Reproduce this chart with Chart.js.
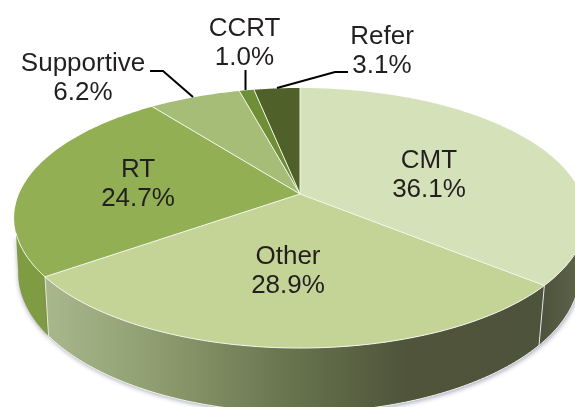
<!DOCTYPE html>
<html>
<head>
<meta charset="utf-8">
<title>Treatment share</title>
<script src="https://cdn.jsdelivr.net/npm/chart.js@4"></script>
<style>
    html, body { margin: 0; padding: 0; background: #fff; overflow: hidden; }
    #wrap { position: relative; width: 575px; height: 407px; }
</style>
</head>
<body>
<div id="wrap"><canvas id="pieChart" width="575" height="407"></canvas></div>
<script>
const categories = ['CMT', 'Other', 'RT', 'Supportive', 'CCRT', 'Refer'];
const shares = [36.1, 28.9, 24.7, 6.2, 1.0, 3.1];
const shareLabels = ['36.1%', '28.9%', '24.7%', '6.2%', '1.0%', '3.1%'];

const topColors = ['#d5e2b9', '#c4d497', '#92af54', '#a5bd76', '#6f8f36', '#4f6128'];

// label anchors: [center x, first baseline]
const labelSpots = [[429, 168], [288, 264], [138, 177], [83, 71], [244.5, 36], [382, 44]];
const leaders = [
    [[150, 71], [163, 71], [193, 97]],
    [[245.5, 70], [245.5, 90]],
    [[348, 72], [335, 72], [277, 88]]
];

// the pie is tilted with a bit of perspective, so the back is narrower than the front
const tilt = 0.1846;
const topRim = { yScale: 125.6 };
const lowRim = { dx: -1, xScale: 276, yc: 247, yScale: 135 };

const DEG = Math.PI / 180;

function rimPoint(arc, angle, isLow) {
    const w = 1 - tilt * Math.sin(angle);
    if (isLow) {
        return [arc.x + lowRim.dx + lowRim.xScale * Math.cos(angle) / w,
                lowRim.yc + lowRim.yScale * Math.sin(angle) / w];
    }
    return [arc.x + arc.outerRadius * Math.cos(angle) / w,
            arc.y + topRim.yScale * Math.sin(angle) / w];
}

function traceRim(ctx, arc, from, to, isLow, first) {
    const steps = Math.max(4, Math.ceil(Math.abs(to - from) * 60));
    for (let i = 0; i <= steps; i++) {
        const p = rimPoint(arc, from + (to - from) * i / steps, isLow);
        if (i === 0 && first) ctx.moveTo(p[0], p[1]);
        else ctx.lineTo(p[0], p[1]);
    }
}

function wallFill(ctx, index) {
    if (index === 2) return '#7f9c42';
    const g = ctx.createLinearGradient(47, 0, 575, 0);
    g.addColorStop(0, '#a9b88c');
    g.addColorStop(0.2, '#8f9e70');
    g.addColorStop(0.45, '#69754f');
    g.addColorStop(0.68, '#4f543a');
    g.addColorStop(0.94, '#4e533b');
    g.addColorStop(1, '#5c6249');
    return g;
}

const pie3d = {
    id: 'pie3d',
    beforeDatasetsDraw(chart) {
        const ctx = chart.ctx;
        const arcs = chart.getDatasetMeta(0).data;

        ctx.save();
        ctx.lineJoin = 'round';

        // side wall, only the visible front part of each slice
        [2, 0, 1].forEach(i => {
            const arc = arcs[i];
            let topFrom = arc.startAngle, topTo = arc.endAngle;
            let lowFrom = arc.startAngle, lowTo = arc.endAngle;
            if (i === 2) { topTo = 163 * DEG; lowTo = 170 * DEG; }
            if (i === 0) { topFrom = 15 * DEG; lowFrom = 10 * DEG; }

            ctx.save();
            ctx.shadowColor = 'rgba(80,80,120,0.45)';
            ctx.shadowBlur = 4;
            ctx.shadowOffsetY = 2;
            ctx.shadowOffsetX = i === 2 ? 0 : 1;
            ctx.beginPath();
            traceRim(ctx, arc, topFrom, topTo, false, true);
            traceRim(ctx, arc, lowTo, lowFrom, true, false);
            ctx.closePath();
            ctx.fillStyle = wallFill(ctx, i);
            ctx.fill();
            ctx.restore();

            if (i !== 2) {
                ctx.beginPath();
                traceRim(ctx, arc, lowFrom, lowTo, true, true);
                ctx.strokeStyle = '#f1f3ea';
                ctx.lineWidth = 1;
                ctx.stroke();
            }
        });

        // wall seams
        [arcs[0].endAngle, arcs[1].endAngle].forEach(angle => {
            const a = rimPoint(arcs[0], angle, false);
            const b = rimPoint(arcs[0], angle, true);
            ctx.beginPath();
            ctx.moveTo(a[0], a[1]);
            ctx.lineTo(b[0], b[1]);
            ctx.strokeStyle = '#e4e8d8';
            ctx.lineWidth = 1;
            ctx.stroke();
        });

        // top face
        arcs.forEach((arc, i) => {
            ctx.beginPath();
            ctx.moveTo(arc.x, arc.y);
            traceRim(ctx, arc, arc.startAngle, arc.endAngle, false, false);
            ctx.closePath();
            ctx.fillStyle = topColors[i];
            ctx.fill();
        });

        // light seams between slices
        arcs.forEach(arc => {
            const p = rimPoint(arc, arc.startAngle, false);
            ctx.beginPath();
            ctx.moveTo(arc.x, arc.y);
            ctx.lineTo(p[0], p[1]);
            ctx.strokeStyle = '#f4f6ec';
            ctx.lineWidth = 1;
            ctx.stroke();
        });

        // light edge along the front of the top face
        ctx.beginPath();
        traceRim(ctx, arcs[0], 15 * DEG, 163 * DEG, false, true);
        ctx.strokeStyle = '#f1f3ea';
        ctx.lineWidth = 1;
        ctx.stroke();

        ctx.restore();
        return false;
    },
    afterDraw(chart) {
        const ctx = chart.ctx;
        ctx.save();

        ctx.strokeStyle = '#000';
        ctx.lineWidth = 2;
        leaders.forEach(line => {
            ctx.beginPath();
            line.forEach((p, i) => i === 0 ? ctx.moveTo(p[0], p[1]) : ctx.lineTo(p[0], p[1]));
            ctx.stroke();
        });

        ctx.fillStyle = '#231f20';
        ctx.font = '26px "Liberation Sans"';
        ctx.textAlign = 'center';
        ctx.textBaseline = 'alphabetic';
        categories.forEach((name, i) => {
            const spot = labelSpots[i];
            ctx.fillText(name, spot[0], spot[1]);
            ctx.fillText(shareLabels[i], spot[0], spot[1] + 29);
        });
        ctx.restore();
    }
};

new Chart(document.getElementById('pieChart'), {
    type: 'pie',
    data: {
        labels: categories,
        datasets: [{
            data: shares,
            backgroundColor: topColors,
            borderWidth: 0,
            radius: 281,
            clip: false
        }]
    },
    options: {
        responsive: false,
        animation: false,
        layout: { padding: { left: 25, bottom: 19 } },
        plugins: {
            legend: { display: false },
            tooltip: { enabled: false }
        }
    },
    plugins: [pie3d]
});
</script>
</body>
</html>
